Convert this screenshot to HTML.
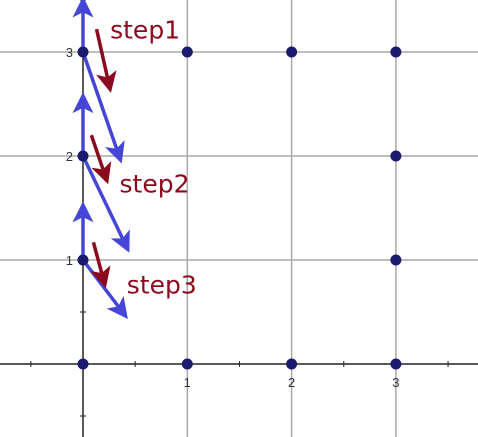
<!DOCTYPE html>
<html><head><meta charset="utf-8"><style>body{margin:0;background:#fff}svg{display:block}</style></head>
<body>
<svg id="c" width="478" height="437"></svg>
<script>
const xTicks=[1,2,3];
const yTicks=[1,2,3];
const pointsX=[0,1,2,3,0,0,0,1,2,3,3,3];
const pointsY=[0,0,0,0,1,2,3,3,3,3,2,1];
const blueFromX=[0,0,0,0,0,0];
const blueFromY=[3,3,2,2,1,1];
const blueToX=[0,0.36,0,0.43,0,0.41];
const blueToY=[3.5,1.96,2.58,1.1,1.53,0.46];
const redFromX=[0.13,0.08,0.1];
const redFromY=[3.22,2.2,1.17];
const redToX=[0.26,0.23,0.21];
const redToY=[2.64,1.76,0.76];
const stepLabels=["step1","step2","step3"];
const labelX=[0.26,0.35,0.42];
const labelY=[3.13,1.65,0.68];
const sx=v=>83+v*104.3, sy=v=>364-v*104;
const svg=document.getElementById('c');const NS='http://www.w3.org/2000/svg';
function mk(t,a,p){const e=document.createElementNS(NS,t);for(const k in a)e.setAttribute(k,a[k]);(p||svg).appendChild(e);return e;}
const defs=mk('defs',{});
const mb=mk('marker',{id:'ab',markerWidth:6,markerHeight:6,refX:5,refY:3,orient:'auto',markerUnits:'strokeWidth'},defs);
mk('path',{d:'M0,0 L6,3 L0,6 L1.5,3 Z',fill:'#4545d8'},mb);
const mr=mk('marker',{id:'ar',markerWidth:6,markerHeight:6,refX:5,refY:3,orient:'auto',markerUnits:'strokeWidth'},defs);
mk('path',{d:'M0,0 L6,3 L0,6 L1.5,3 Z',fill:'#8b0a1e'},mr);
xTicks.forEach(v=>{const l=mk('line',{x1:sx(v),x2:sx(v),y1:0,y2:437,stroke:'#aaa','stroke-width':1.5});
});
yTicks.forEach(v=>{const l=mk('line',{x1:0,x2:478,y1:sy(v),y2:sy(v),stroke:'#aaa','stroke-width':1.5});
});
let a=mk('line',{x1:0,x2:478,y1:sy(0),y2:sy(0),stroke:'#222','stroke-width':1.5});
a=mk('line',{x1:sx(0),x2:sx(0),y1:0,y2:437,stroke:'#222','stroke-width':1.5});
for(let v=-0.5;v<=3.6;v+=0.5)mk('line',{x1:sx(v),x2:sx(v),y1:sy(0)-3,y2:sy(0)+3,stroke:'#222'});
for(let v=-0.5;v<=3.6;v+=0.5)mk('line',{x1:sx(0)-3,x2:sx(0)+3,y1:sy(v),y2:sy(v),stroke:'#222'});
xTicks.forEach(v=>{const t=mk('text',{x:sx(v),y:sy(0)+23,'text-anchor':'middle','font-family':'Liberation Sans, sans-serif','font-size':13,fill:'#333'});t.textContent=v;
});
yTicks.forEach(v=>{const t=mk('text',{x:sx(0)-10,y:sy(v)+5,'text-anchor':'end','font-family':'Liberation Sans, sans-serif','font-size':13,fill:'#333'});t.textContent=v;
});
blueFromX.forEach((_,i)=>{const l=mk('line',{x1:sx(blueFromX[i]),y1:sy(blueFromY[i]),x2:sx(blueToX[i]),y2:sy(blueToY[i]),stroke:'#4545d8','stroke-width':3.5,'marker-end':'url(#ab)'});
});
redFromX.forEach((_,i)=>{const l=mk('line',{x1:sx(redFromX[i]),y1:sy(redFromY[i]),x2:sx(redToX[i]),y2:sy(redToY[i]),stroke:'#8b0a1e','stroke-width':3.5,'marker-end':'url(#ar)'});
});
pointsX.forEach((_,i)=>{const c=mk('circle',{cx:sx(pointsX[i]),cy:sy(pointsY[i]),r:5.5,fill:'#1a1a6e'});
});
stepLabels.forEach((s,i)=>{const t=mk('text',{x:sx(labelX[i]),y:sy(labelY[i]),'font-family':'DejaVu Sans, sans-serif','font-size':25,fill:'#8b0a1e'});t.textContent=s;
});
</script>
</body></html>
